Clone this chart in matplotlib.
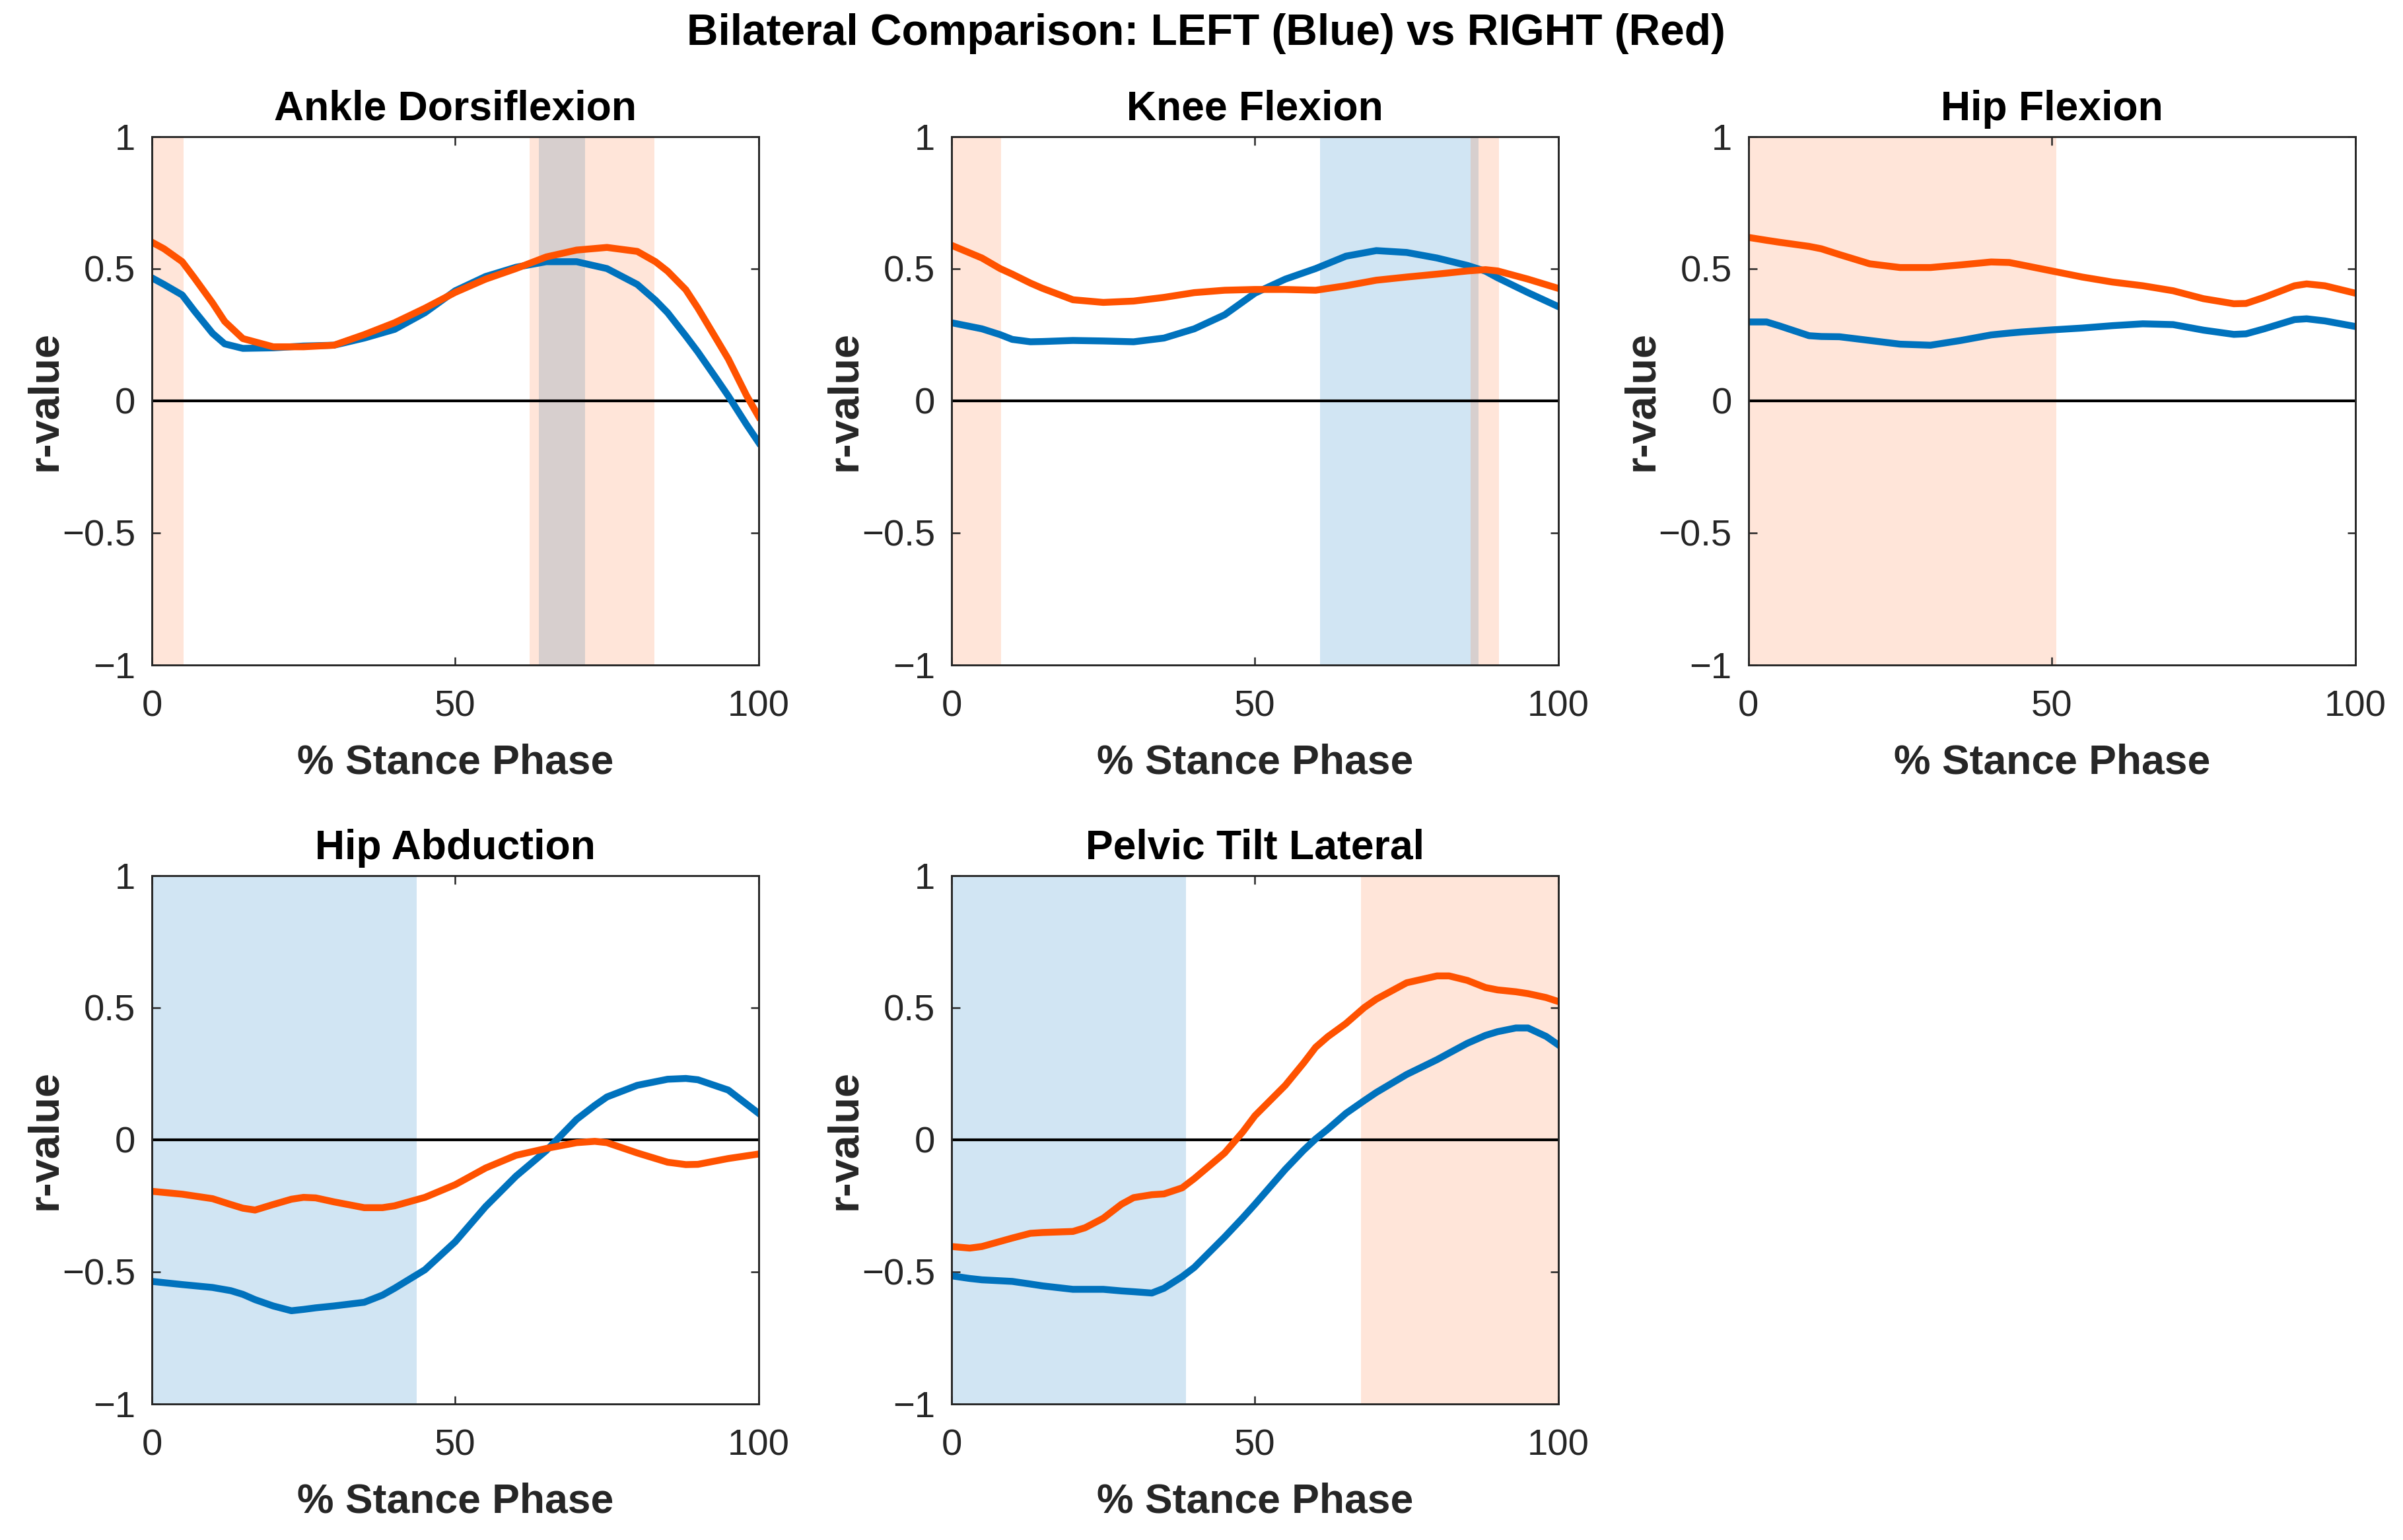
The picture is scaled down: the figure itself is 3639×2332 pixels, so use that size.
import matplotlib
matplotlib.use('Agg')
import matplotlib.pyplot as plt

plt.rcParams['font.family'] = ['Liberation Sans', 'DejaVu Sans']

# パネル名
titles = ['Ankle Dorsiflexion', 'Knee Flexion', 'Hip Flexion', 'Hip Abduction', 'Pelvic Tilt Lateral']

# Ankle Dorsiflexion
ankleX = [0, 2, 5, 7, 10, 12, 15, 20, 25, 30, 35, 40, 45, 50, 55, 60, 65, 70, 75, 80, 83, 85, 88, 90, 93, 95, 98, 100]
ankleL = [0.465, 0.44, 0.40, 0.34, 0.255, 0.215, 0.198, 0.20, 0.207, 0.21, 0.237, 0.27, 0.333, 0.416, 0.47, 0.505, 0.526, 0.526, 0.50, 0.44, 0.38, 0.333, 0.245, 0.184, 0.085, 0.018, -0.09, -0.158]
ankleR = [0.60, 0.575, 0.526, 0.465, 0.37, 0.30, 0.235, 0.204, 0.204, 0.21, 0.25, 0.295, 0.35, 0.41, 0.46, 0.50, 0.544, 0.57, 0.58, 0.565, 0.526, 0.49, 0.42, 0.35, 0.235, 0.158, 0.02, -0.06]

# Knee Flexion
kneeX = [0, 5, 8, 10, 13, 15, 20, 25, 30, 35, 40, 45, 50, 55, 60, 65, 70, 75, 80, 85, 88, 90, 95, 100]
kneeL = [0.295, 0.272, 0.25, 0.232, 0.223, 0.224, 0.228, 0.226, 0.223, 0.237, 0.272, 0.325, 0.407, 0.46, 0.50, 0.547, 0.568, 0.561, 0.54, 0.512, 0.49, 0.465, 0.409, 0.356]
kneeR = [0.588, 0.54, 0.50, 0.479, 0.445, 0.425, 0.382, 0.372, 0.377, 0.391, 0.409, 0.418, 0.421, 0.421, 0.418, 0.435, 0.456, 0.468, 0.479, 0.491, 0.496, 0.491, 0.46, 0.425]

# Hip Flexion
hipFlexX = [0, 3, 5, 10, 12, 15, 20, 25, 30, 35, 40, 43, 45, 50, 55, 60, 65, 70, 75, 80, 82, 85, 90, 92, 95, 100]
hipFlexL = [0.298, 0.298, 0.284, 0.246, 0.243, 0.242, 0.228, 0.214, 0.21, 0.228, 0.249, 0.256, 0.26, 0.268, 0.275, 0.284, 0.291, 0.288, 0.267, 0.251, 0.253, 0.272, 0.307, 0.31, 0.302, 0.281]
hipFlexR = [0.618, 0.607, 0.60, 0.584, 0.575, 0.553, 0.518, 0.504, 0.504, 0.514, 0.525, 0.523, 0.514, 0.491, 0.468, 0.449, 0.435, 0.416, 0.386, 0.367, 0.368, 0.391, 0.435, 0.442, 0.435, 0.407]

# Hip Abduction
hipAbdX = [0, 5, 10, 13, 15, 17, 20, 23, 25, 27, 30, 35, 38, 40, 45, 50, 55, 60, 65, 70, 73, 75, 80, 85, 88, 90, 95, 100]
hipAbdL = [-0.536, -0.548, -0.559, -0.571, -0.585, -0.605, -0.629, -0.647, -0.642, -0.636, -0.629, -0.615, -0.588, -0.562, -0.492, -0.386, -0.253, -0.138, -0.041, 0.077, 0.13, 0.162, 0.206, 0.229, 0.232, 0.227, 0.188, 0.10]
hipAbdR = [-0.195, -0.206, -0.223, -0.245, -0.259, -0.266, -0.245, -0.225, -0.218, -0.22, -0.235, -0.257, -0.257, -0.25, -0.218, -0.17, -0.107, -0.059, -0.033, -0.011, -0.006, -0.011, -0.05, -0.085, -0.094, -0.093, -0.071, -0.054]

# Pelvic Tilt Lateral
pelvisX = [0, 3, 5, 10, 13, 15, 20, 22, 25, 28, 30, 33, 35, 38, 40, 45, 48, 50, 55, 58, 60, 62, 65, 68, 70, 75, 80, 82, 85, 88, 90, 93, 95, 98, 100]
pelvisL = [-0.515, -0.525, -0.53, -0.536, -0.546, -0.553, -0.566, -0.566, -0.566, -0.572, -0.575, -0.58, -0.562, -0.518, -0.483, -0.368, -0.295, -0.244, -0.112, -0.04, 0.003, 0.04, 0.10, 0.148, 0.179, 0.247, 0.303, 0.328, 0.365, 0.395, 0.409, 0.423, 0.423, 0.391, 0.359]
pelvisR = [-0.404, -0.41, -0.404, -0.372, -0.354, -0.351, -0.347, -0.333, -0.297, -0.244, -0.219, -0.208, -0.205, -0.182, -0.147, -0.05, 0.03, 0.091, 0.206, 0.29, 0.35, 0.39, 0.44, 0.50, 0.532, 0.594, 0.62, 0.62, 0.603, 0.576, 0.567, 0.56, 0.553, 0.538, 0.523]

xs = [ankleX, kneeX, hipFlexX, hipAbdX, pelvisX]
lefts = [ankleL, kneeL, hipFlexL, hipAbdL, pelvisL]
rights = [ankleR, kneeR, hipFlexR, hipAbdR, pelvisR]

# 有意区間 (開始, 終了)
leftSig = [[(63.8, 71.4)], [(60.7, 86.8)], [], [(0, 43.6)], [(0, 38.6)]]
rightSig = [[(0, 5.2), (62.3, 82.8)], [(0, 8.2), (85.5, 90.2)], [(0, 50.7)], [], [(67.5, 100)]]

blue = '#0072BD'
red = '#FF5200'
yticks = [-1, -0.5, 0, 0.5, 1]
yticklabels = ['\u22121', '\u22120.5', '0', '0.5', '1']

fig = plt.figure(figsize=(3639 / 300, 2332 / 300), dpi=300)

# 軸の位置 (left, bottom, width, height)
w = 0.2525
h = 0.3432
positions = [
    (0.0632, 0.5682, w, h),
    (0.3960, 0.5682, w, h),
    (0.7276, 0.5682, w, h),
    (0.0632, 0.0883, w, h),
    (0.3960, 0.0883, w, h),
]

for i in range(5):
    ax = fig.add_axes(positions[i])
    for a, b in leftSig[i]:
        ax.axvspan(a, b, color=blue, alpha=0.18, lw=0)
    for a, b in rightSig[i]:
        ax.axvspan(a, b, color=red, alpha=0.15, lw=0)
    ax.axhline(0, color='black', lw=1.0)
    ax.plot(xs[i], lefts[i], color=blue, lw=2.5)
    ax.plot(xs[i], rights[i], color=red, lw=2.5)

    ax.set_xlim(0, 100)
    ax.set_ylim(-1, 1)
    ax.set_xticks([0, 50, 100])
    ax.set_yticks(yticks)
    ax.set_yticklabels(yticklabels)
    ax.tick_params(direction='in', top=True, right=True, length=3, width=0.6,
                   labelsize=13.5, colors='#262626')
    ax.tick_params(axis='x', pad=9)
    ax.tick_params(axis='y', pad=6)
    for s in ax.spines.values():
        s.set_linewidth(0.7)
        s.set_color('#262626')
    ax.set_title(titles[i], fontsize=15, fontweight='bold', pad=6)
    ax.set_xlabel('% Stance Phase', fontsize=15, fontweight='bold', color='#262626', labelpad=7)
    ax.set_ylabel('r-value', fontsize=15.5, fontweight='bold', color='#262626', labelpad=-1)

fig.text(0.502, 0.978, 'Bilateral Comparison: LEFT (Blue) vs RIGHT (Red)', fontsize=15.8,
         fontweight='bold', ha='center', va='center')

fig.savefig('out.png', dpi=300)
